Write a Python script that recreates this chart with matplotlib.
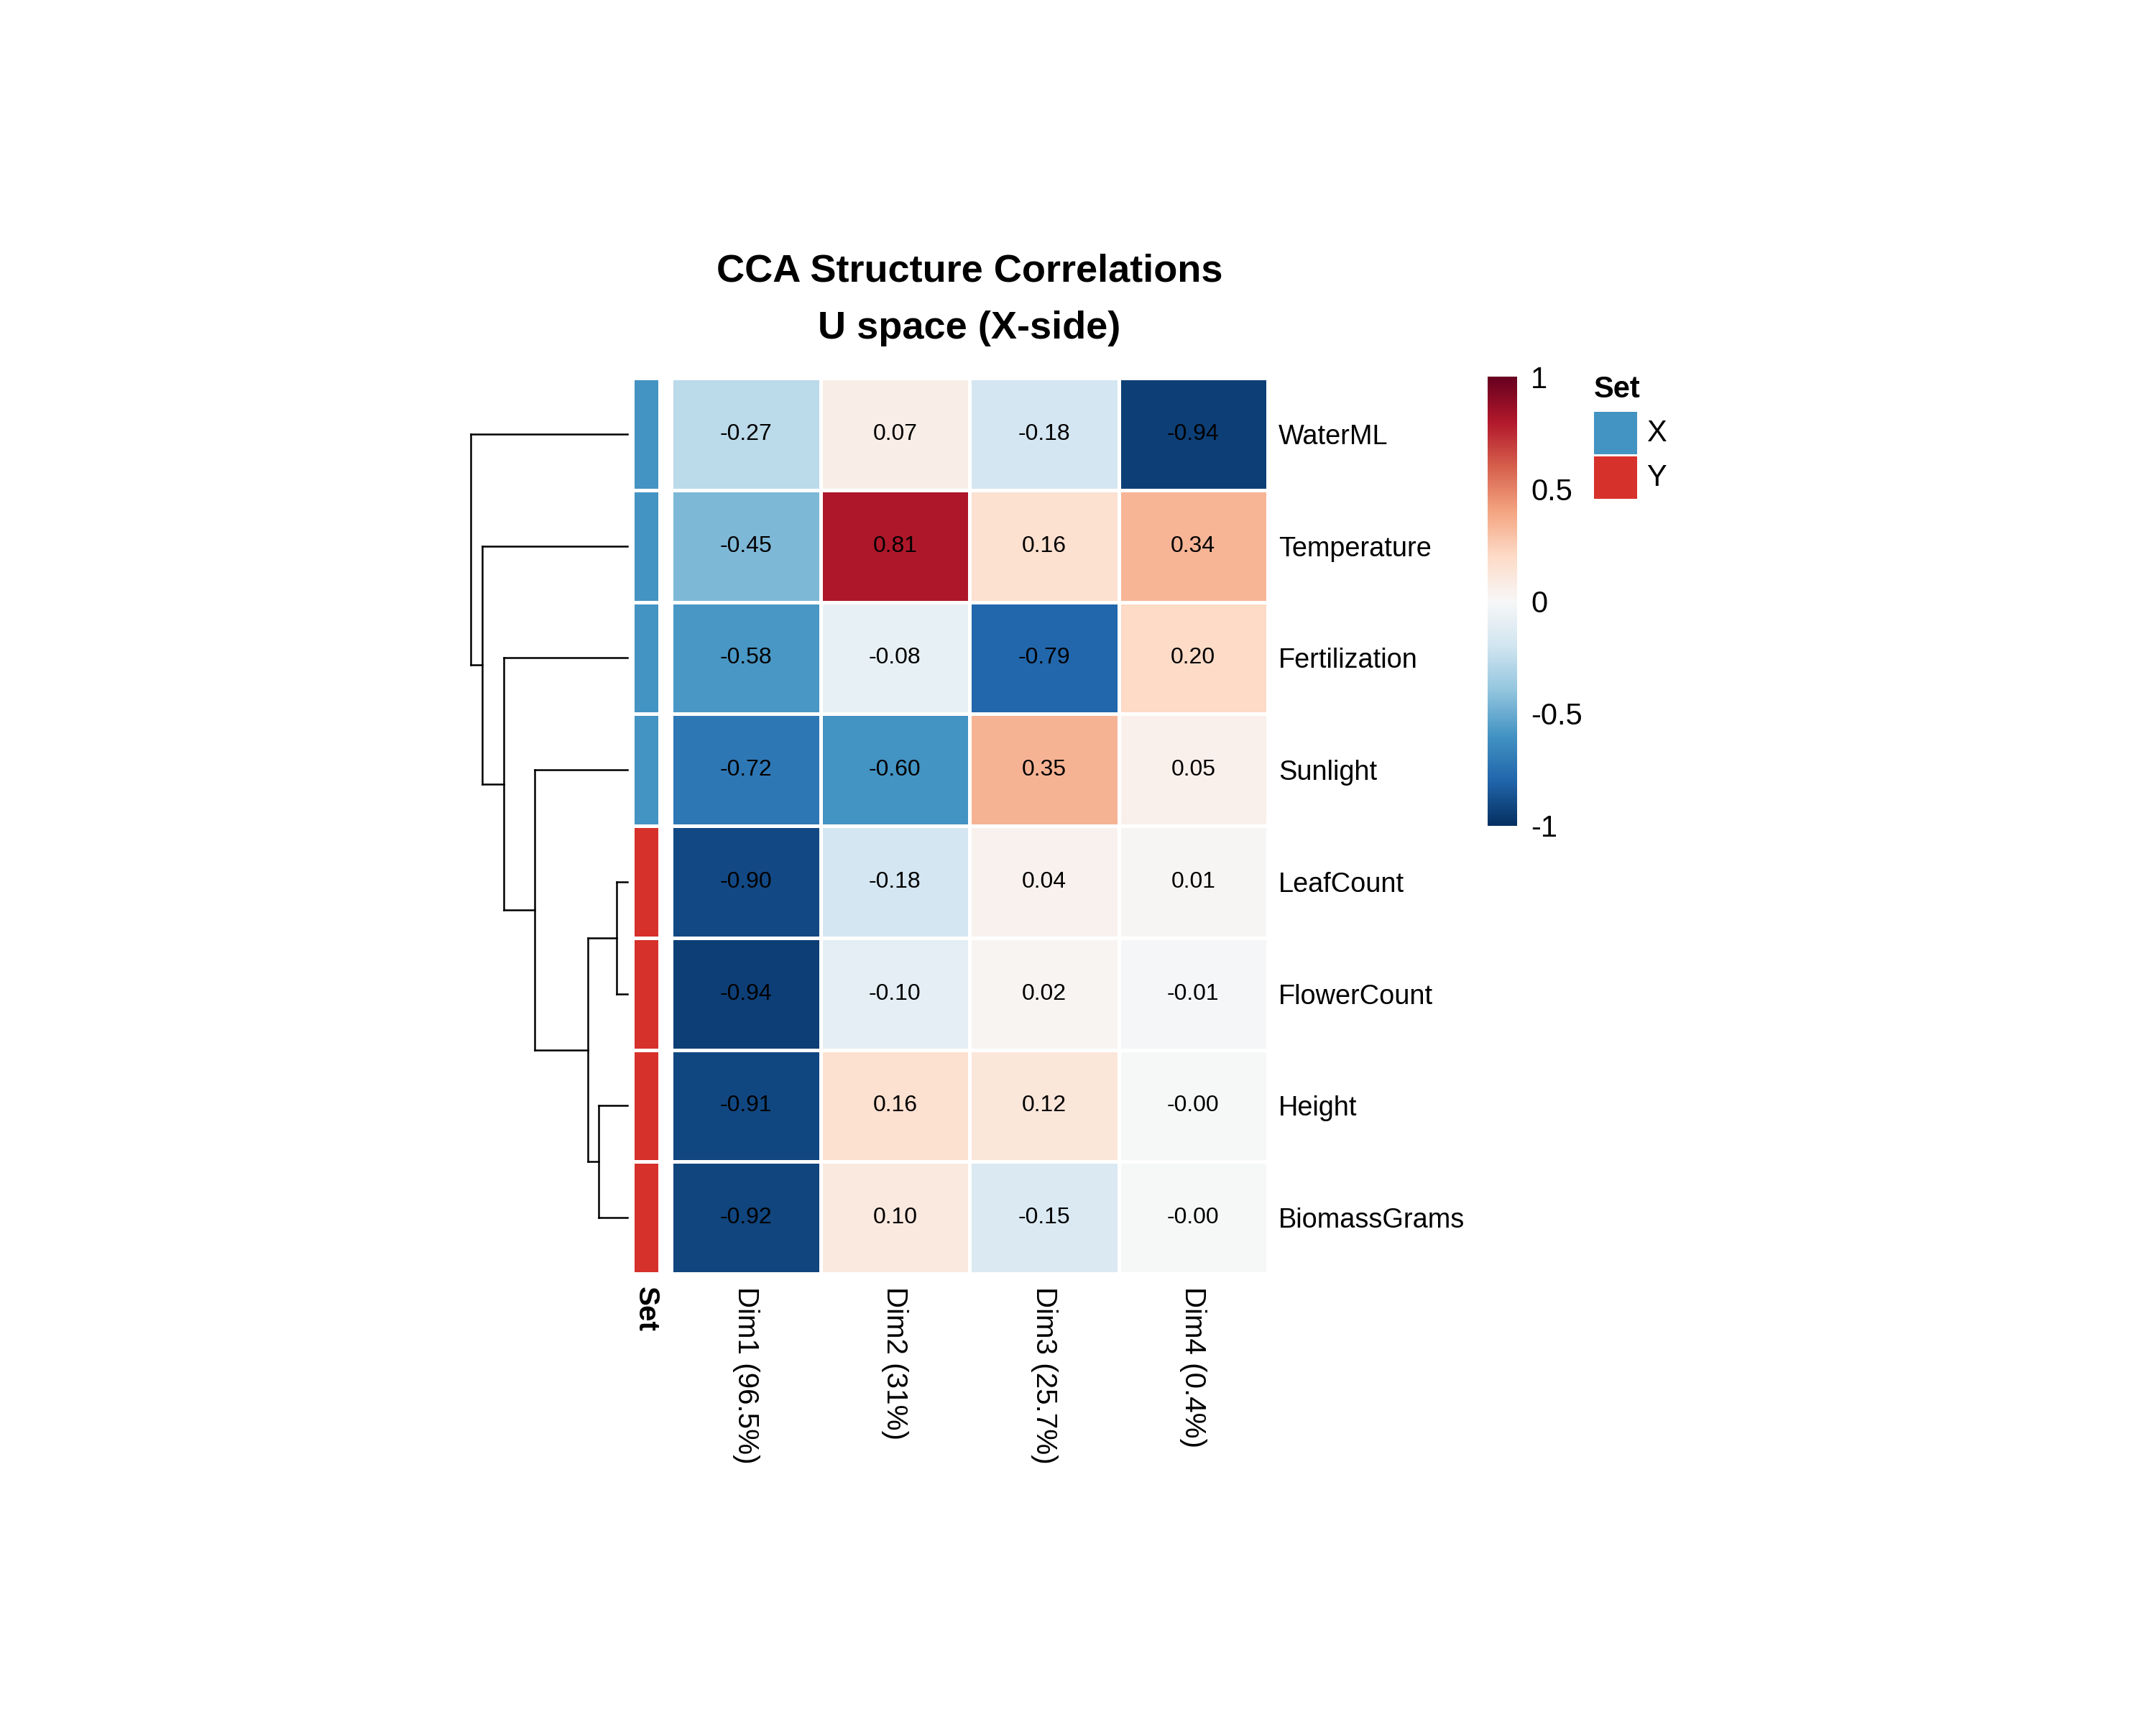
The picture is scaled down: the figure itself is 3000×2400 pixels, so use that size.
import numpy as np
import matplotlib
matplotlib.use("Agg")
import matplotlib.pyplot as plt
from matplotlib.colors import ListedColormap, Normalize
from matplotlib.patches import Rectangle
import matplotlib.cm as cm

plt.rcParams['font.family'] = ['Liberation Sans', 'DejaVu Sans']
plt.rcParams['axes.unicode_minus'] = False

# ---------------- data ----------------
row_names = ["WaterML", "Temperature", "Fertilization", "Sunlight",
             "LeafCount", "FlowerCount", "Height", "BiomassGrams"]
col_names = ["Dim1 (96.5%)", "Dim2 (31%)", "Dim3 (25.7%)", "Dim4 (0.4%)"]
dim1 = [-0.27, -0.45, -0.58, -0.72, -0.90, -0.94, -0.91, -0.92]
dim2 = [0.07, 0.81, -0.08, -0.60, -0.18, -0.10, 0.16, 0.10]
dim3 = [-0.18, 0.16, -0.79, 0.35, 0.04, 0.02, 0.12, -0.15]
dim4 = [-0.94, 0.34, 0.20, 0.05, 0.01, -0.01, -0.001, -0.001]
set_labels = ["X", "X", "X", "X", "Y", "Y", "Y", "Y"]
set_levels = ["X", "Y"]
set_colors = ["#4393C3", "#D6312A"]
# dendrogram merges: (child_a, child_b, height); leaves 0..7, new nodes 8..
merges = [(4, 5, 0.15), (6, 7, 0.40), (8, 9, 0.55), (3, 10, 1.29),
          (2, 11, 1.72), (1, 12, 2.02), (0, 13, 2.18)]
cbar_ticks = [-1, -0.5, 0, 0.5, 1]
cbar_ticklabels = ["-1", "-0.5", "0", "0.5", "1"]
title_lines = ["CCA Structure Correlations", "U space (X-side)"]

mat = np.array([dim1, dim2, dim3, dim4]).T
nrow, ncol = mat.shape

W, H = 3000, 2400
fig = plt.figure(figsize=(10, 8), dpi=300)


def rect(x0, y0, x1, y1):
    return [x0 / W, 1 - y1 / H, (x1 - x0) / W, (y1 - y0) / H]


# ---------------- heatmap body ----------------
hx0, hy0, hx1, hy1 = 934, 526, 1764, 1772
ax = fig.add_axes(rect(hx0, hy0, hx1, hy1))
cmap = plt.get_cmap("RdBu_r")
norm = Normalize(-1, 1)
ax.pcolormesh(np.arange(ncol + 1), np.arange(nrow + 1), mat, cmap=cmap, norm=norm,
              edgecolors="white", linewidth=0.8)
ax.set_xlim(0, ncol)
ax.set_ylim(nrow, 0)
for i in range(nrow):
    for j in range(ncol):
        ax.text(j + 0.5, i + 0.5, f"{mat[i, j]:.2f}", ha="center", va="center",
                fontsize=7.7, color="black")
for s in ax.spines.values():
    s.set_visible(False)
ax.yaxis.tick_right()
ax.set_yticks(np.arange(nrow) + 0.5)
ax.set_yticklabels(row_names, fontsize=9.1)
ax.set_xticks(np.arange(ncol) + 0.5)
ax.set_xticklabels(col_names, fontsize=9.7, rotation=-90, ha="center", va="top")
ax.tick_params(axis="y", length=0, pad=3.6)
ax.tick_params(axis="x", length=0, pad=4.3)

# ---------------- Set annotation ----------------
sx0, sx1 = 880, 918
axs = fig.add_axes(rect(sx0, hy0, sx1, hy1))
codes = np.array([[set_levels.index(s)] for s in set_labels])
axs.pcolormesh(np.arange(2), np.arange(nrow + 1), codes,
               cmap=ListedColormap(set_colors), vmin=-0.5, vmax=1.5,
               edgecolors="white", linewidth=0.8)
axs.set_xlim(0, 1)
axs.set_ylim(nrow, 0)
for s in axs.spines.values():
    s.set_visible(False)
axs.set_yticks([])
axs.set_xticks([0.5])
axs.set_xticklabels(["Set"], fontsize=9.7, fontweight="bold", rotation=-90,
                    ha="center", va="top")
axs.tick_params(axis="x", length=0, pad=4.3)

# ---------------- dendrogram ----------------
dx0, dx1 = 655, 873
axd = fig.add_axes(rect(dx0, hy0, dx1, hy1))
pos = {i: i + 0.5 for i in range(nrow)}
hgt = {i: 0.0 for i in range(nrow)}
node = nrow
lw = 0.6
for a, b, h in merges:
    ya, yb = pos[a], pos[b]
    axd.plot([hgt[a], h], [ya, ya], color="black", lw=lw, clip_on=False,
             solid_capstyle="projecting")
    axd.plot([hgt[b], h], [yb, yb], color="black", lw=lw, clip_on=False,
             solid_capstyle="projecting")
    axd.plot([h, h], [ya, yb], color="black", lw=lw, clip_on=False,
             solid_capstyle="projecting")
    pos[node] = (ya + yb) / 2
    hgt[node] = h
    node += 1
axd.set_xlim(max(m[2] for m in merges), 0)
axd.set_ylim(nrow, 0)
axd.axis("off")

# ---------------- colorbar ----------------
cax = fig.add_axes(rect(2070, 524, 2111, 1149))
sm = cm.ScalarMappable(norm=norm, cmap=cmap)
cb = fig.colorbar(sm, cax=cax, ticks=cbar_ticks)
cb.set_ticklabels(cbar_ticklabels)
cb.outline.set_visible(False)
cax.tick_params(length=0, pad=4.6, labelsize=10)

# ---------------- Set legend ----------------
fig.text(2218 / W, 1 - 542 / H, "Set", fontsize=10, fontweight="bold",
         ha="left", va="center")
box_tops = [573, 635]
for k, lev in enumerate(set_levels):
    y0 = box_tops[k]
    fig.patches.append(Rectangle((2218 / W, 1 - (y0 + 59) / H), 60 / W, 59 / H,
                                 transform=fig.transFigure, facecolor=set_colors[k],
                                 edgecolor="none"))
    fig.text(2291 / W, 1 - (y0 + 30) / H, lev, fontsize=10, ha="left", va="center")

# ---------------- title ----------------
fig.text(1349 / W, 1 - 378 / H, title_lines[0], fontsize=13, fontweight="bold",
         ha="center", va="center")
fig.text(1349 / W, 1 - 457 / H, title_lines[1], fontsize=13, fontweight="bold",
         ha="center", va="center")

fig.savefig("out.png", dpi=300, facecolor="white")
